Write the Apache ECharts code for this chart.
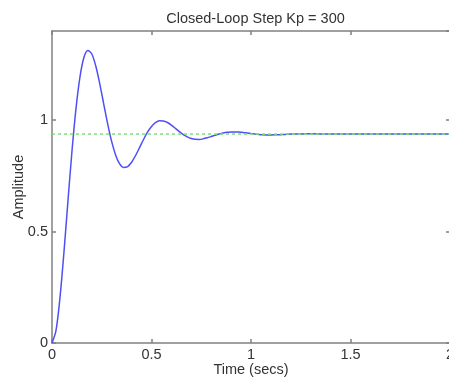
<!DOCTYPE html>
<html>
<head>
<meta charset="utf-8">
<script src="https://cdn.jsdelivr.net/npm/echarts@6/dist/echarts.min.js"></script>
<style>
html,body{margin:0;padding:0;background:#fff;}
#chart{width:449px;height:382px;}
</style>
</head>
<body>
<div id="chart"></div>
<script>
const titleText = "Closed-Loop Step Kp = 300";
const xLabel = "Time (secs)";
const yLabel = "Amplitude";
const xTicks = [0, 0.5, 1, 1.5, 2];
const yTicks = [0, 0.5, 1];
const finalValue = 0.9375;
const time = [0,0.02,0.04,0.06,0.08,0.10,0.12,0.14,0.16,0.18,0.20,0.22,0.24,0.26,0.28,0.30,0.32,0.34,0.36,0.38,0.40,0.42,0.44,0.46,0.48,0.50,0.52,0.54,0.56,0.58,0.60,0.62,0.64,0.66,0.68,0.70,0.72,0.74,0.76,0.78,0.80,0.82,0.84,0.86,0.88,0.90,0.92,0.94,0.96,0.98,1.00,1.02,1.04,1.06,1.08,1.10,1.12,1.14,1.16,1.18,1.20,1.30,1.40,1.50,1.60,1.70,1.80,1.90,2.00];
const amplitude = [0,0.0556,0.2024,0.4066,0.6353,0.8570,1.0474,1.1911,1.2802,1.3126,1.2967,1.2428,1.1631,1.0723,0.9822,0.9036,0.8428,0.8035,0.7877,0.7916,0.8113,0.8414,0.8770,0.9132,0.9459,0.9715,0.9890,0.9971,0.9966,0.9895,0.9777,0.9634,0.9487,0.9354,0.9248,0.9175,0.9139,0.9136,0.9161,0.9206,0.9263,0.9322,0.9376,0.9420,0.9452,0.9468,0.9471,0.9463,0.9446,0.9423,0.9400,0.9378,0.9359,0.9346,0.9338,0.9336,0.9339,0.9346,0.9354,0.9364,0.9373,0.9390,0.9373,0.9375,0.9375,0.9375,0.9375,0.9375,0.9375];

const font = "'Liberation Sans', Arial, sans-serif";
const fs = 14.5;
const txt = '#333';
const axisCol = '#808080';

const chart = echarts.init(document.getElementById('chart'), null, {renderer: 'canvas'});
const response = time.map((t, i) => [t, amplitude[i]]);
const common = {
  axisLine: {show: true, onZero: false, lineStyle: {color: axisCol, width: 1.5}},
  axisTick: {show: true, inside: true, length: 4, lineStyle: {color: axisCol, width: 1.5}},
  splitLine: {show: false}
};
chart.setOption({
  animation: false,
  backgroundColor: '#fff',
  title: {
    text: titleText, left: 250.5, top: 6, textAlign: 'center',
    textStyle: {fontFamily: font, fontSize: fs, fontWeight: 'normal', color: txt}
  },
  grid: {left: 52, right: -1, top: 31, bottom: 39, containLabel: false, outerBoundsMode: 'none'},
  xAxis: [
    Object.assign({
      type: 'value', min: xTicks[0], max: xTicks[xTicks.length-1], interval: 0.5, position: 'bottom',
      name: xLabel, nameLocation: 'middle', nameGap: 19, nameMoveOverlap: false,
      nameTextStyle: {fontFamily: font, fontSize: fs, color: txt},
      axisLabel: {fontFamily: font, fontSize: fs, color: txt, margin: 4,
        formatter: v => xTicks.includes(v) ? String(v) : ''}
    }, common),
    Object.assign({
      type: 'value', min: xTicks[0], max: xTicks[xTicks.length-1], interval: 0.5, position: 'top',
      axisLabel: {show: false}
    }, common)
  ],
  yAxis: [
    Object.assign({
      type: 'value', min: 0, max: 1.4, interval: 0.5, position: 'left',
      name: yLabel, nameLocation: 'middle', nameGap: 26, nameRotate: 90, nameMoveOverlap: false,
      nameTextStyle: {fontFamily: font, fontSize: fs, color: txt},
      axisLabel: {fontFamily: font, fontSize: fs, color: txt, margin: 4, showMaxLabel: false,
        formatter: v => yTicks.includes(v) ? String(v) : ''}
    }, common),
    Object.assign({
      type: 'value', min: 0, max: 1.4, interval: 0.5, position: 'right',
      axisLabel: {show: false}
    }, common)
  ],
  series: [
    {
      type: 'line', data: response, showSymbol: false, smooth: 0.3,
      lineStyle: {color: '#4f4ff5', width: 1.5}, z: 2
    },
    {
      type: 'line', data: [[xTicks[0], finalValue], [xTicks[xTicks.length-1], finalValue]],
      showSymbol: false,
      lineStyle: {color: '#7fe07f', width: 1.5, type: [3, 3]}, z: 3
    }
  ]
});
</script>
</body>
</html>
